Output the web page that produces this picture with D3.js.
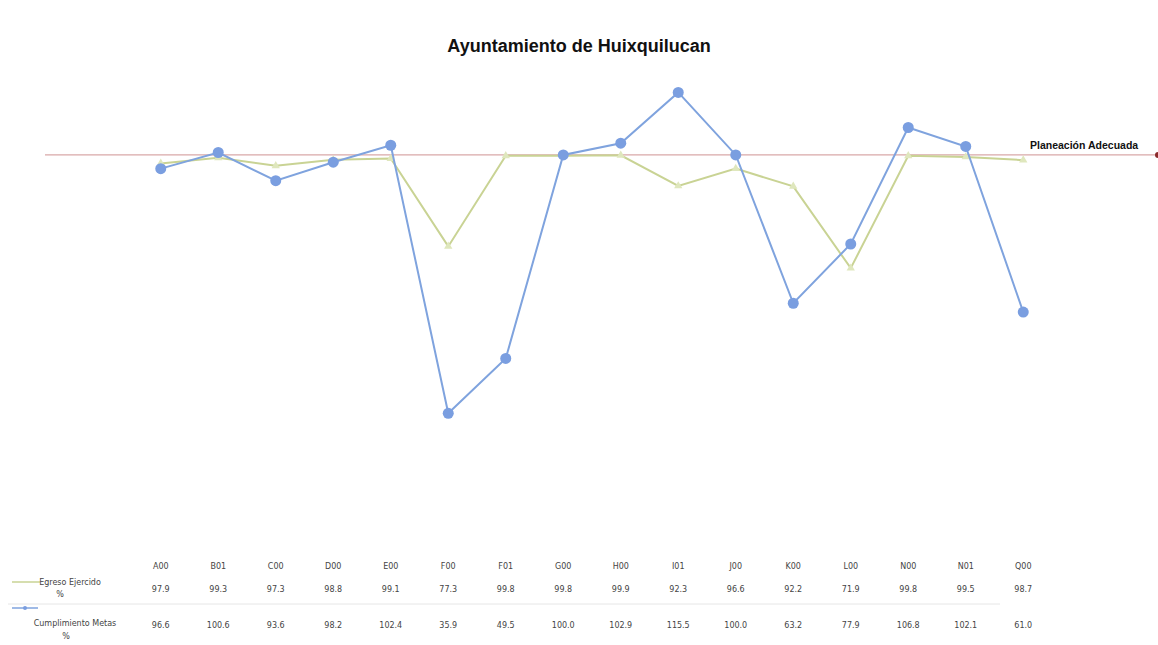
<!DOCTYPE html>
<html lang="es">
<head>
<meta charset="UTF-8">
<title>Ayuntamiento de Huixquilucan</title>
<style>
  body { margin: 0; background: #fff; }
  text { font-family: "Liberation Sans", Arial, sans-serif; }
  .tbl { font-family: "DejaVu Sans", sans-serif; font-size: 8px; fill: #444; }
</style>
</head>
<body>
<div id="main"></div>
<script src="https://cdn.jsdelivr.net/npm/d3@7/dist/d3.min.js"></script>
<script>
  // datos
  const categories = ["A00", "B01", "C00", "D00", "E00", "F00", "F01", "G00", "H00", "I01", "J00", "K00", "L00", "N00", "N01", "Q00"];
  const egreso = [97.9, 99.3, 97.3, 98.8, 99.1, 77.3, 99.8, 99.8, 99.9, 92.3, 96.6, 92.2, 71.9, 99.8, 99.5, 98.7];
  const cumplimiento = [96.6, 100.6, 93.6, 98.2, 102.4, 35.9, 49.5, 100.0, 102.9, 115.5, 100.0, 63.2, 77.9, 106.8, 102.1, 61.0];
  const referencia = 100;

  const width = 1158, height = 645;
  const greenLine = "#c9d394", greenMark = "#dfe7bd";
  const blueLine = "#7fa3de", blueMark = "#7a9ee0";

  const svg = d3.select("#main").append("svg")
    .attr("width", width)
    .attr("height", height);

  const x = d3.scaleBand().domain(categories).range([132, 1052]);
  const y = d3.scaleLinear().domain([0, 130]).range([558, 34]);
  const cx = d => x(d) + x.bandwidth() / 2;

  // titulo
  svg.append("text")
    .attr("x", 579).attr("y", 52)
    .attr("text-anchor", "middle")
    .attr("font-size", 18).attr("font-weight", "bold")
    .attr("fill", "#111")
    .text("Ayuntamiento de Huixquilucan");

  // linea de planeacion adecuada
  svg.append("line")
    .attr("x1", 45).attr("x2", 1155)
    .attr("y1", y(referencia)).attr("y2", y(referencia))
    .attr("stroke", "#d9a8a8").attr("stroke-width", 1.3);
  svg.append("circle")
    .attr("cx", 1158).attr("cy", y(referencia)).attr("r", 3)
    .attr("fill", "#8b2a2a");
  svg.append("text")
    .attr("x", 1030).attr("y", y(referencia) - 6)
    .attr("font-size", 10.5).attr("font-weight", "bold")
    .attr("fill", "#111")
    .text("Planeación Adecuada");

  const line = d3.line().x((d, i) => cx(categories[i])).y(d => y(d));

  // Egreso Ejercido
  svg.append("path").datum(egreso)
    .attr("d", line).attr("fill", "none")
    .attr("stroke", greenLine).attr("stroke-width", 2);
  svg.selectAll(".mg").data(egreso).join("path")
    .attr("class", "mg")
    .attr("transform", (d, i) => `translate(${cx(categories[i])},${y(d)})`)
    .attr("d", d3.symbol(d3.symbolTriangle, 30))
    .attr("fill", greenMark);

  // Cumplimiento Metas
  svg.append("path").datum(cumplimiento)
    .attr("d", line).attr("fill", "none")
    .attr("stroke", blueLine).attr("stroke-width", 2);
  svg.selectAll(".mb").data(cumplimiento).join("circle")
    .attr("class", "mb")
    .attr("cx", (d, i) => cx(categories[i]))
    .attr("cy", d => y(d))
    .attr("r", 5.5)
    .attr("fill", blueMark);

  // tabla de datos
  const tbl = svg.append("g");
  const rowHead = 569, rowEg = 592, rowCu = 628;
  tbl.append("line")
    .attr("x1", 8).attr("x2", 1000).attr("y1", 604).attr("y2", 604)
    .attr("stroke", "#e6e6e6");
  categories.forEach((c, i) => {
    tbl.append("text").attr("class", "tbl").attr("x", cx(c)).attr("y", rowHead)
      .attr("text-anchor", "middle").text(c);
    tbl.append("text").attr("class", "tbl").attr("x", cx(c)).attr("y", rowEg)
      .attr("text-anchor", "middle").text(egreso[i].toFixed(1));
    tbl.append("text").attr("class", "tbl").attr("x", cx(c)).attr("y", rowCu)
      .attr("text-anchor", "middle").text(cumplimiento[i].toFixed(1));
  });

  // leyenda
  tbl.append("line").attr("x1", 12).attr("x2", 40).attr("y1", 582).attr("y2", 582)
    .attr("stroke", greenLine).attr("stroke-width", 1.5);
  tbl.append("text").attr("class", "tbl").attr("x", 70).attr("y", 585)
    .attr("text-anchor", "middle").text("Egreso Ejercido");
  tbl.append("text").attr("class", "tbl").attr("x", 60).attr("y", 597)
    .attr("text-anchor", "middle").text("%");

  tbl.append("line").attr("x1", 12).attr("x2", 38).attr("y1", 608).attr("y2", 608)
    .attr("stroke", blueLine).attr("stroke-width", 1.5);
  tbl.append("circle").attr("cx", 25).attr("cy", 608).attr("r", 2).attr("fill", blueMark);
  tbl.append("text").attr("class", "tbl").attr("x", 75).attr("y", 626)
    .attr("text-anchor", "middle").text("Cumplimiento Metas");
  tbl.append("text").attr("class", "tbl").attr("x", 66).attr("y", 639)
    .attr("text-anchor", "middle").text("%");
</script>
</body>
</html>
